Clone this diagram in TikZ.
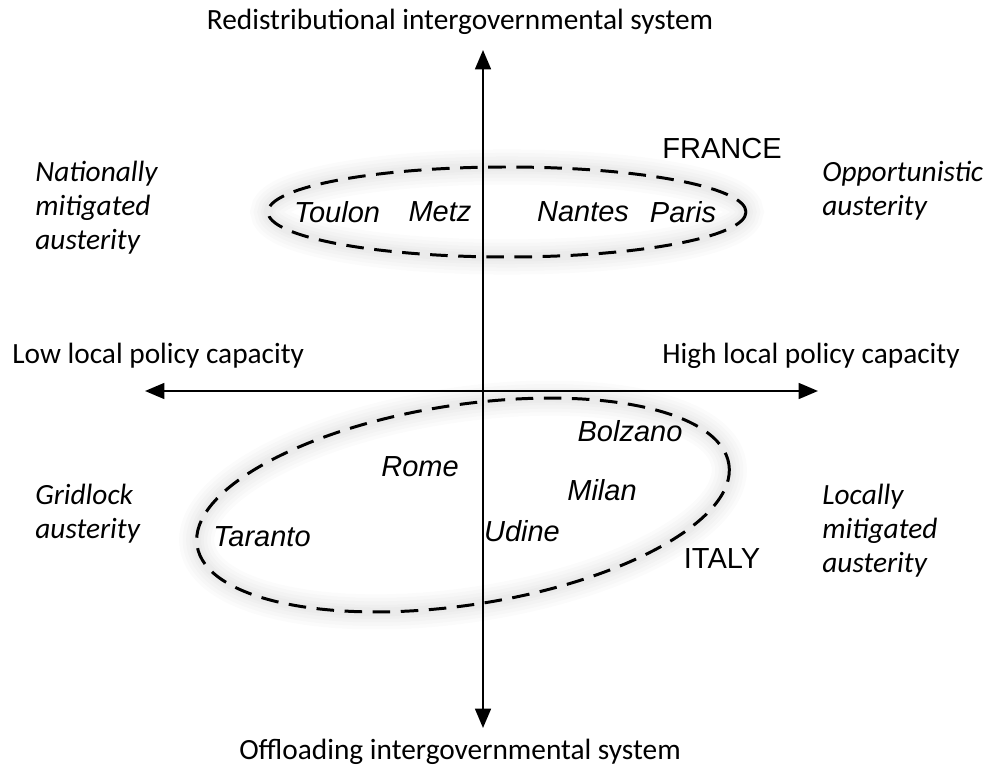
\documentclass[tikz,border=0pt]{standalone}
\usepackage{fontspec}
\setmainfont{Carlito}
\newfontfamily\arialf{Liberation Sans}
\usetikzlibrary{arrows.meta}
\begin{document}
\begin{tikzpicture}[x=0.02cm,y=-0.02cm,
  axis/.style={line width=1.2pt,{Triangle[length=11pt,width=9pt]}-{Triangle[length=11pt,width=9pt]}},
  axlabel/.style={font=\fontsize{16.7}{20}\selectfont, inner sep=0pt},
  quad/.style={font=\fontsize{16.7}{19.3}\selectfont\itshape, align=left, anchor=north west, inner sep=0pt},
  city/.style={font=\arialf\fontsize{16.5}{19}\selectfont\itshape, inner sep=0pt},
  country/.style={font=\arialf\fontsize{16.5}{19}\selectfont, inner sep=0pt},
  group/.style={line width=1.7pt, dash pattern=on 10pt off 6pt},
  glow/.style={line width=#1, draw=black, opacity=0.016}
]
\useasboundingbox (0,0) rectangle (986,776);
% axes
\coordinate (top) at (483,50);
\coordinate (bot) at (483,728);
\coordinate (lft) at (145,391);
\coordinate (rgt) at (818,391);
% glows
\foreach \w in {20pt,16pt,12pt,8pt,5pt}{
  \draw[glow=\w] (507,212) ellipse [x radius=239, y radius=45];
  \draw[glow=\w] (463,505) ellipse [x radius=269, y radius=100, rotate=8.7];}
\draw[axis] (bot) -- (top);
\draw[axis] (lft) -- (rgt);
% axis labels
\node[axlabel] (tl) at (460,22) {Redistributional intergovernmental system};
\node[axlabel] (bl) at (460,752) {Offloading intergovernmental system};
\node[axlabel, anchor=west] (ll) at (12,356) {Low local policy capacity};
\node[axlabel, anchor=east] (rl) at (960,356) {High local policy capacity};
% quadrant labels
\node[quad] (q1) at (35,161) {Nationally\\mitigated\\austerity};
\node[quad] (q2) at (822,161) {Opportunistic\\austerity};
\node[quad] (q3) at (35,484) {Gridlock\\austerity};
\node[quad] (q4) at (822,484) {Locally\\mitigated\\austerity};
% France group
\draw[group] (507,212) ellipse [x radius=239, y radius=45];
\node[country] (fr) at (722,149) {FRANCE};
\node[city] (toulon) at (337,212) {Toulon};
\node[city] (metz) at (440,212) {Metz};
\node[city] (nantes) at (583,212) {Nantes};
\node[city] (paris) at (683,212) {Paris};
% Italy group
\draw[group] (463,505) ellipse [x radius=269, y radius=100, rotate=8.7];
\node[country] (it) at (722,559) {ITALY};
\node[city] (bolzano) at (630,431) {Bolzano};
\node[city] (rome) at (420,467) {Rome};
\node[city] (milan) at (602,490) {Milan};
\node[city] (udine) at (522,531) {Udine};
\node[city] (taranto) at (262,537) {Taranto};
\end{tikzpicture}
\end{document}
